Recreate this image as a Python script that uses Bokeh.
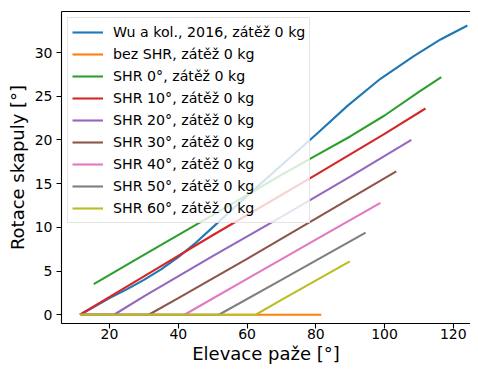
from bokeh.plotting import figure
from bokeh.models import LinearAxis, FixedTicker, Range1d, Legend, LegendItem
from bokeh.embed import file_html
from bokeh.resources import INLINE

# ---- data ----
wu_x = [11.4, 20, 25, 30, 35, 40, 45, 50, 55, 60, 70, 80, 89.2, 98.8, 108.5, 116.3, 124.1]
wu_y = [0, 1.9, 2.9, 4.0, 5.2, 6.6, 8.2, 10.0, 11.8, 13.6, 17.1, 20.6, 23.9, 27.0, 29.6, 31.5, 33.1]

bez_x = [11.4, 81.6]
bez_y = [0, 0]

shr0_x = [15.4, 30, 50, 70, 80, 90, 100, 110, 116.5]
shr0_y = [3.5, 6.85, 11.4, 16.0, 18.2, 20.4, 22.8, 25.5, 27.2]

shr10_x = [11.4, 30, 50, 70, 80, 100, 111.9]
shr10_y = [0, 4.4, 9.1, 13.7, 16.0, 20.7, 23.6]

shr20_x = [11.4, 21.3, 30, 50, 70, 90, 107.8]
shr20_y = [0, 0, 2.1, 6.7, 11.2, 15.8, 20.0]

shr30_x = [11.4, 31.4, 40, 60, 80, 103.4]
shr30_y = [0, 0, 1.9, 6.4, 11.0, 16.4]

shr40_x = [11.4, 41.8, 60, 80, 98.8]
shr40_y = [0, 0, 4.1, 8.6, 12.8]

shr50_x = [11.4, 51.8, 70, 94.5]
shr50_y = [0, 0, 4.0, 9.4]

shr60_x = [11.4, 62.5, 70, 89.9]
shr60_y = [0, 0, 1.7, 6.1]

labels = [
    "Wu a kol., 2016, zátěž 0 kg",
    "bez SHR, zátěž 0 kg",
    "SHR 0°, zátěž 0 kg",
    "SHR 10°, zátěž 0 kg",
    "SHR 20°, zátěž 0 kg",
    "SHR 30°, zátěž 0 kg",
    "SHR 40°, zátěž 0 kg",
    "SHR 50°, zátěž 0 kg",
    "SHR 60°, zátěž 0 kg",
]
colors = ["#1f77b4", "#ff7f0e", "#2ca02c", "#d62728", "#9467bd",
          "#8c564b", "#e377c2", "#7f7f7f", "#bcbd22"]
series = [(wu_x, wu_y), (bez_x, bez_y), (shr0_x, shr0_y), (shr10_x, shr10_y),
          (shr20_x, shr20_y), (shr30_x, shr30_y), (shr40_x, shr40_y),
          (shr50_x, shr50_y), (shr60_x, shr60_y)]

x_ticks = [20, 40, 60, 80, 100, 120]
y_ticks = [0, 5, 10, 15, 20, 25, 30]
x_label = "Elevace paže [°]"
y_label = "Rotace skapuly [°]"

FONT = "DejaVu Sans"

p = figure(width=470, height=367, output_backend="svg", toolbar_location=None,
           x_range=Range1d(6.03, 125.0), y_range=Range1d(-1.0, 34.70),
           min_border_left=61, min_border_right=0, min_border_top=11,
           min_border_bottom=44)
p.outline_line_color = None
p.grid.visible = False
p.background_fill_color = "white"

renderers = []
for (xs, ys), c in zip(series, colors):
    r = p.line(xs, ys, line_color=c, line_width=2.1)
    renderers.append(r)

for ax in (p.xaxis[0], p.yaxis[0]):
    ax.axis_line_color = "black"
    ax.axis_line_width = 1.1
    ax.major_tick_line_color = "black"
    ax.major_tick_line_width = 1.1
    ax.major_tick_out = 5
    ax.major_tick_in = 0
    ax.minor_tick_line_color = None
    ax.major_label_text_font = FONT
    ax.major_label_text_font_size = "14px"
    ax.major_label_text_color = "black"
    ax.axis_label_text_font = FONT
    ax.axis_label_text_font_size = "18px"
    ax.axis_label_text_font_style = "normal"
    ax.axis_label_text_color = "black"

p.xaxis[0].ticker = FixedTicker(ticks=x_ticks)
p.yaxis[0].ticker = FixedTicker(ticks=y_ticks)
p.xaxis[0].axis_label = x_label
p.yaxis[0].axis_label = y_label
p.xaxis[0].major_label_standoff = 0
p.xaxis[0].axis_label_standoff = 1
p.yaxis[0].major_label_standoff = 4
p.yaxis[0].axis_label_standoff = 4

top = LinearAxis(ticker=FixedTicker(ticks=[]), axis_line_color="black",
                 axis_line_width=1.1, major_tick_line_color=None,
                 major_tick_out=0, major_tick_in=0, major_label_standoff=0,
                 minor_tick_line_color=None, major_label_text_font_size="0px")
p.add_layout(top, "above")

legend = Legend(items=[LegendItem(label=l, renderers=[r]) for l, r in zip(labels, renderers)],
                location="top_left", margin=6, padding=4, spacing=2,
                glyph_width=31, glyph_height=20, label_height=20,
                label_standoff=10,
                label_text_font=FONT, label_text_font_size="14.2px",
                label_text_color="black",
                border_line_color="#cccccc", border_line_width=1,
                background_fill_color="white", background_fill_alpha=0.8)
p.add_layout(legend, "center")

open("out.html", "w").write(file_html(p, INLINE))
